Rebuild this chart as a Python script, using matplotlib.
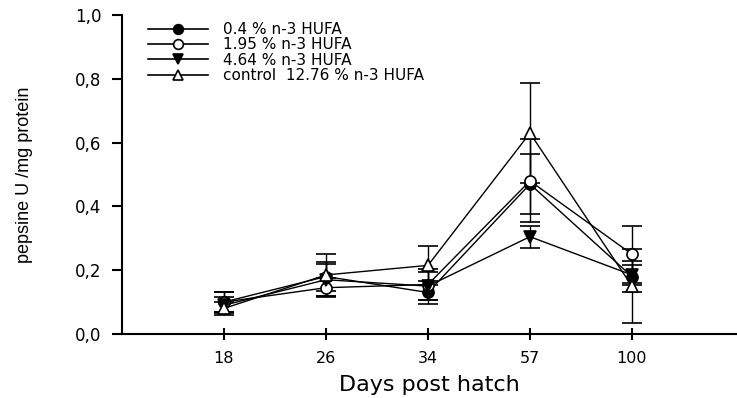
import numpy as np
import matplotlib
matplotlib.use("Agg")
import matplotlib.pyplot as plt
from matplotlib.lines import Line2D

plt.rcParams['font.family'] = ['DejaVu Sans']

days = ["18", "26", "34", "57", "100"]

labels = ["0.4 % n-3 HUFA", "1.95 % n-3 HUFA", "4.64 % n-3 HUFA",
          "control  12.76 % n-3 HUFA"]

mean_04 = [0.10, 0.18, 0.13, 0.47, 0.18]
err_04 = [0.03, 0.045, 0.035, 0.095, 0.05]

mean_195 = [0.10, 0.145, 0.155, 0.48, 0.25]
err_195 = [0.03, 0.03, 0.05, 0.13, 0.09]

mean_464 = [0.09, 0.17, 0.15, 0.305, 0.185]
err_464 = [0.025, 0.05, 0.045, 0.035, 0.03]

mean_ctrl = [0.08, 0.185, 0.215, 0.63, 0.15]
err_ctrl = [0.02, 0.065, 0.062, 0.157, 0.115]

x = np.arange(1, len(days) + 1)

fig = plt.figure(figsize=(7.37, 3.98), dpi=100)
ax = fig.add_axes([0.1655, 0.161, 0.8345, 0.801])

series = [
    (mean_04, err_04, "o", "black"),
    (mean_195, err_195, "o", "white"),
    (mean_464, err_464, "v", "black"),
    (mean_ctrl, err_ctrl, "^", "white"),
]
handles = []
for (m, e, mk, fc), lab in zip(series, labels):
    ax.errorbar(x, m, yerr=e, marker=mk, markersize=8, mfc=fc, mec="black",
                mew=1.2, color="black", lw=1, elinewidth=1, capsize=7,
                capthick=1.2)
    handles.append(Line2D([], [], marker=mk, markersize=7, mfc=fc,
                          mec="black", mew=1.2, color="black", lw=1.2,
                          label=lab))

ax.set_xlim(0, 6.03)
ax.set_ylim(0, 1.0)
ax.set_xticks(x)
ax.set_xticklabels(days)
ax.set_yticks(np.arange(0, 1.01, 0.2))
ax.set_yticklabels(["0,0", "0,2", "0,4", "0,6", "0,8", "1,0"])
ax.tick_params(axis="y", labelsize=12, width=1.5, length=7, pad=8)
ax.tick_params(axis="x", labelsize=11.5, width=1.5, length=8,
               direction="inout", pad=8)
ax.spines["top"].set_visible(False)
ax.spines["right"].set_visible(False)
ax.spines["left"].set_linewidth(1.5)
ax.spines["bottom"].set_linewidth(1.5)

ax.set_xlabel("Days post hatch", fontsize=16, labelpad=7)
ax.set_ylabel("pepsine U /mg protein", fontsize=13, labelpad=30,
              family="Liberation Sans")

ax.legend(handles=handles, loc="upper left", bbox_to_anchor=(0.033, 0.997),
          frameon=False, fontsize=11, handlelength=3.9, handletextpad=1.0,
          labelspacing=0.02, borderaxespad=0.0)

fig.savefig("out.png", dpi=100)
